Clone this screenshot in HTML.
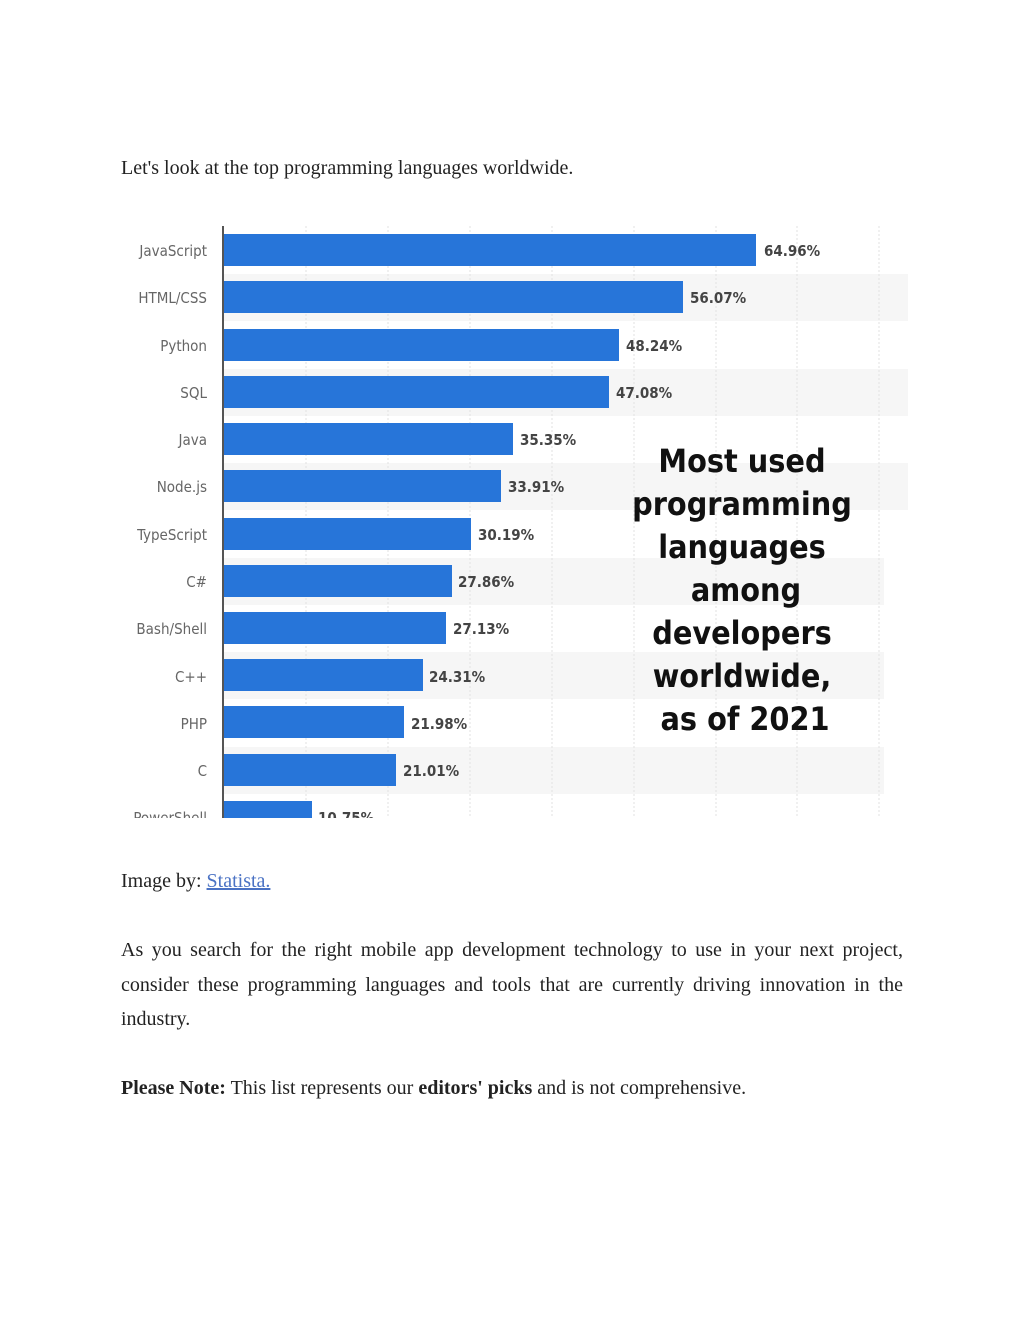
<!DOCTYPE html>
<html><head><meta charset="utf-8"><style>
body{margin:0;background:#fff;width:1024px;height:1325px;position:relative;overflow:hidden;font-family:"Liberation Serif",serif;color:#222}
.t{position:absolute;left:121px;font-size:20px;white-space:nowrap}
.j{position:absolute;left:121px;width:782px;font-size:20px;line-height:34.5px;text-align:justify}
a{color:#4a72c4;text-decoration:underline}
</style></head><body>
<div class="t" style="top:157px">Let's look at the top programming languages worldwide.</div>
<svg style="position:absolute;left:0;top:0" width="1024" height="1325">
<g font-family="DejaVu Sans Condensed, DejaVu Sans, sans-serif">
<rect x="224" y="274" width="684" height="47" fill="#f6f6f6"/>
<rect x="224" y="369" width="684" height="47" fill="#f6f6f6"/>
<rect x="224" y="463" width="684" height="47" fill="#f6f6f6"/>
<rect x="224" y="558" width="660" height="47" fill="#f6f6f6"/>
<rect x="224" y="652" width="660" height="47" fill="#f6f6f6"/>
<rect x="224" y="747" width="660" height="47" fill="#f6f6f6"/>
<g stroke="#e2e2e2" stroke-width="1" stroke-dasharray="2,2">
<line x1="306" y1="226" x2="306" y2="818"/><line x1="388" y1="226" x2="388" y2="818"/>
<line x1="470" y1="226" x2="470" y2="818"/><line x1="552" y1="226" x2="552" y2="818"/>
<line x1="634" y1="226" x2="634" y2="818"/><line x1="716" y1="226" x2="716" y2="818"/>
<line x1="797" y1="226" x2="797" y2="818"/><line x1="879" y1="226" x2="879" y2="818"/>
</g>
<g fill="#2775d9">
<rect x="224" y="234" width="532" height="32"/>
<rect x="224" y="281" width="459" height="32"/>
<rect x="224" y="329" width="395" height="32"/>
<rect x="224" y="376" width="385" height="32"/>
<rect x="224" y="423" width="289" height="32"/>
<rect x="224" y="470" width="277" height="32"/>
<rect x="224" y="518" width="247" height="32"/>
<rect x="224" y="565" width="228" height="32"/>
<rect x="224" y="612" width="222" height="32"/>
<rect x="224" y="659" width="199" height="32"/>
<rect x="224" y="706" width="180" height="32"/>
<rect x="224" y="754" width="172" height="32"/>
<rect x="224" y="801" width="88" height="17"/>
</g>
<line x1="223" y1="226" x2="223" y2="818" stroke="#555" stroke-width="2"/>
<g font-size="15" fill="#666" text-anchor="end">
<text x="207" y="256">JavaScript</text><text x="207" y="303">HTML/CSS</text>
<text x="207" y="351">Python</text><text x="207" y="398">SQL</text>
<text x="207" y="445">Java</text><text x="207" y="492">Node.js</text>
<text x="207" y="540">TypeScript</text><text x="207" y="587">C#</text>
<text x="207" y="634">Bash/Shell</text><text x="207" y="682">C++</text>
<text x="207" y="729">PHP</text><text x="207" y="776">C</text>
<text x="207" y="823">PowerShell</text>
</g>
<g font-size="15" font-weight="bold" fill="#444">
<text x="764" y="256">64.96%</text><text x="690" y="303">56.07%</text>
<text x="626" y="351">48.24%</text><text x="616" y="398">47.08%</text>
<text x="520" y="445">35.35%</text><text x="508" y="492">33.91%</text>
<text x="478" y="540">30.19%</text><text x="458" y="587">27.86%</text>
<text x="453" y="634">27.13%</text><text x="429" y="682">24.31%</text>
<text x="411" y="729">21.98%</text><text x="403" y="776">21.01%</text>
<text x="318" y="823">10.75%</text>
</g>
<rect x="0" y="818" width="1024" height="20" fill="#fff"/>
<g font-size="32" font-weight="bold" fill="#111" text-anchor="middle">
<text x="742" y="472">Most used</text><text x="742" y="515">programming</text>
<text x="742" y="558">languages</text><text x="746" y="601">among</text>
<text x="742" y="644">developers</text><text x="742" y="687">worldwide,</text>
<text x="745" y="730">as of 2021</text>
</g>
</g>
</svg>
<div class="t" style="top:870px">Image by: <a>Statista.</a></div>
<div class="j" style="top:933px">As you search for the right mobile app development technology to use in your next project, consider these programming languages and tools that are currently driving innovation in the industry.</div>
<div class="t" style="top:1077px"><b>Please Note:</b> This list represents our <b>editors' picks</b> and is not comprehensive.</div>
</body></html>
